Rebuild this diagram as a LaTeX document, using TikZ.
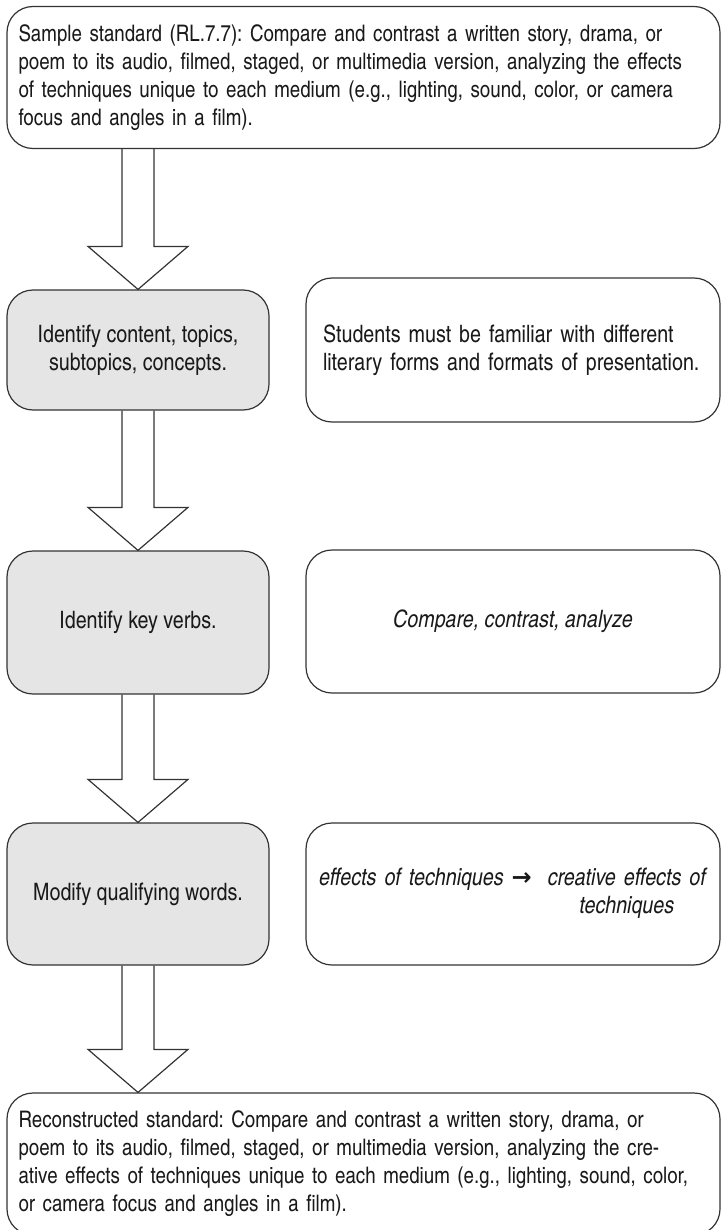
\documentclass[tikz,border=0pt]{standalone}
\usepackage{fontspec}
\setmainfont{texgyreheroscn-regular.otf}[ItalicFont=texgyreheroscn-italic.otf, BoldFont=texgyreheroscn-bold.otf]
\newfontfamily\symfont{DejaVu Sans}
\usetikzlibrary{calc}

\begin{document}
\frenchspacing
\begin{tikzpicture}[x=0.5pt, y=-0.5pt,
  every node/.style={align=center, text=black!90, font=\fontsize{12}{14}\selectfont},
  box/.style={draw=black!80, line width=0.6pt, rounded corners=13pt, inner sep=0pt},
  stdbox/.style={box, minimum width=356.5pt, minimum height=71pt, text width=345pt, align=left, font=\fontsize{11.4}{14}\selectfont},
  stepbox/.style={box, fill=black!10, minimum width=131pt},
  notebox/.style={box, minimum width=207pt},
  fatarrow/.style={draw=black!80, line width=0.6pt}]
\useasboundingbox (0,0) rectangle (721,1230);

\node (sample) [stdbox] at (363.5,77.5) {Sample standard (RL.7.7): Compare and contrast a written story, drama, or\\ poem to its audio, filmed, staged, or multimedia version, analyzing the effects\\ of techniques unique to each medium (e.g., lighting, sound, color, or camera\\ focus and angles in a film).};

\node (identify) [stepbox, minimum height=60pt] at (138,350) {Identify content, topics,\\ subtopics, concepts.};
\node (familiar) [notebox, minimum height=72pt, text width=190pt, align=left] at (513,350) {Students must be familiar with different\\ literary forms and formats of presentation.};

\node (keyverbs) [stepbox, minimum height=71.5pt] at (138,622.5) {Identify key verbs.};
\node (verbs) [notebox, minimum height=71.5pt] at (513,621.5) {\itshape Compare, contrast, analyze};

\node (modify) [stepbox, minimum height=71pt] at (138,894) {Modify qualifying words.};
\node (qualify) [notebox, minimum height=71pt, text width=194pt, align=left] at (513,894) {\itshape effects of techniques {\symfont\bfseries →}\ \ \begin{tabular}[t]{@{}c@{}}creative effects of\\ techniques\end{tabular}};

\node (recon) [stdbox] at (363.5,1164) {Reconstructed standard: Compare and contrast a written story, drama, or\\ poem to its audio, filmed, staged, or multimedia version, analyzing the cre-\\ ative effects of techniques unique to each medium (e.g., lighting, sound, color,\\ or camera focus and angles in a film).};

% hollow block arrows down the left column
\foreach \a/\b in {sample/identify, identify/keyverbs, keyverbs/modify, modify/recon} {
  \coordinate (tail) at (\a.south -| identify.south);
  \coordinate (tip) at (\b.north -| identify.south);
  \draw[fatarrow] ($(tail)+(-16,0)$) -- ($(tip)+(-16,-43)$) -- ($(tip)+(-50,-43)$) -- (tip)
    -- ($(tip)+(50,-43)$) -- ($(tip)+(16,-43)$) -- ($(tail)+(16,0)$);
}
\end{tikzpicture}
\end{document}
